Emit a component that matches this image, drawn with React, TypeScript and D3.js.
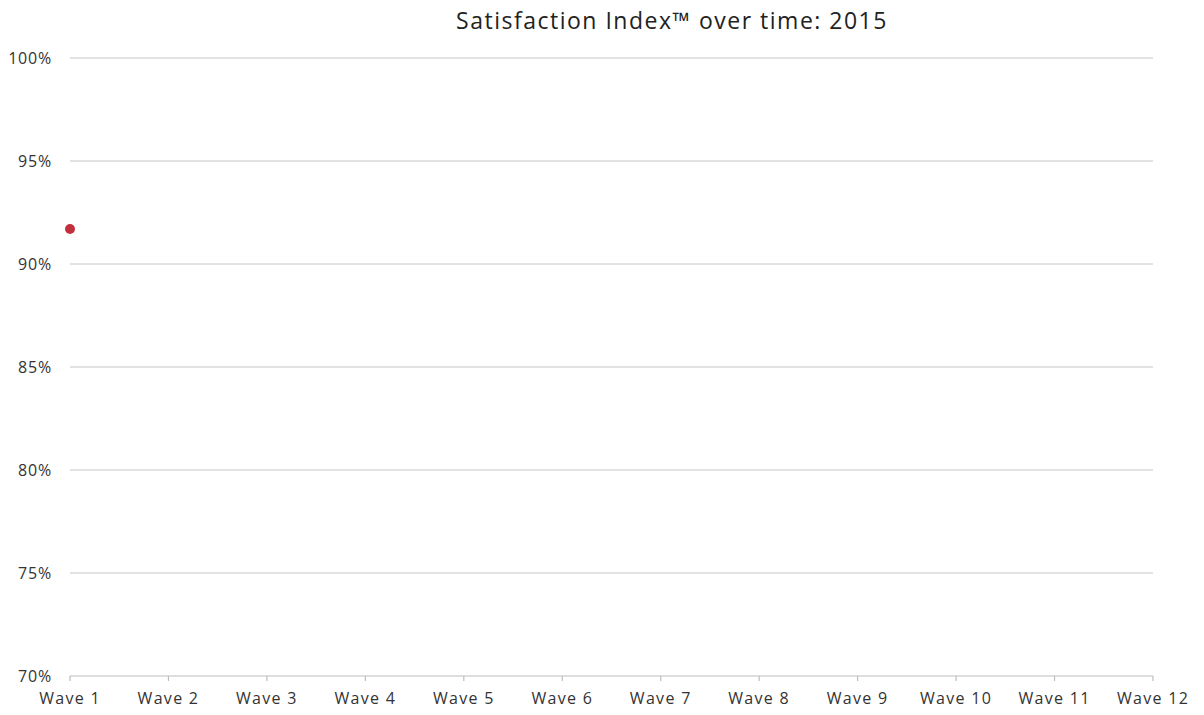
import React from "react";
import * as d3 from "d3";

const waves = ["Wave 1","Wave 2","Wave 3","Wave 4","Wave 5","Wave 6","Wave 7","Wave 8","Wave 9","Wave 10","Wave 11","Wave 12"];
const values: (number | null)[] = [0.917, null, null, null, null, null, null, null, null, null, null, null];
const yTicks = [0.7, 0.75, 0.8, 0.85, 0.9, 0.95, 1.0];
const title = "Satisfaction Index\u2122 over time: 2015";

const W = 1204, H = 715;
const margin = { left: 70, right: 51, top: 58, bottom: 39 };
const font = "'Open Sans', 'DejaVu Sans', sans-serif";

export default function App() {
  const x = d3.scalePoint<string>().domain(waves).range([margin.left, W - margin.right]);
  const y = d3.scaleLinear().domain([0.7, 1.0]).range([H - margin.bottom, margin.top]);
  const fmt = d3.format(".0%");
  const pts = waves.map((w, i) => ({ w, v: values[i] })).filter(d => d.v != null) as { w: string; v: number }[];
  const x0 = margin.left, x1 = W - margin.right;
  const yb = y(0.7);
  return (
    <svg width={W} height={H} style={{ position: "absolute", left: 0, top: 0, background: "#fff" }} fontFamily={font}>
      <text x={672} y={29} textAnchor="middle" fontSize={23} fill="#222" letterSpacing={1.5}>{title}</text>
      {yTicks.map(t => (
        <g key={t}>
          {t > 0.7 && <line x1={x0} x2={x1} y1={y(t)} y2={y(t)} stroke="#c6c6c6" strokeWidth={1} />}
          <text x={52} y={y(t)} dy="0.35em" textAnchor="end" fontSize={16} fill="#333" letterSpacing={0.8}>{fmt(t)}</text>
        </g>
      ))}
      <line x1={x0} x2={x1} y1={yb} y2={yb} stroke="#bdbdbd" strokeWidth={1.2} />
      {waves.map(w => (
        <g key={w}>
          <line x1={x(w)} x2={x(w)} y1={yb} y2={yb + 5} stroke="#bdbdbd" strokeWidth={1.2} />
          <text x={x(w)} y={704} textAnchor="middle" fontSize={16} fill="#333" letterSpacing={1.3}>{w}</text>
        </g>
      ))}
      {pts.map(p => (
        <circle key={p.w} cx={x(p.w)} cy={y(p.v)} r={5} fill="#c1303b" />
      ))}
    </svg>
  );
}
